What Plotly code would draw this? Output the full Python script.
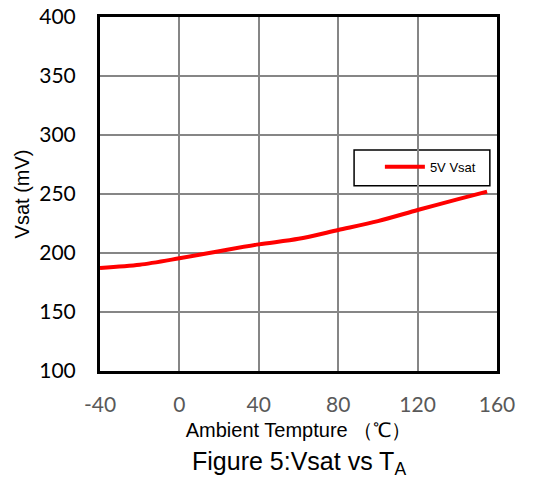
import plotly.graph_objects as go

temps = [-40, -20, 0, 20, 40, 60, 80, 100, 120, 140, 155]
vsat = [187.3, 190.0, 195.5, 201.5, 207.3, 212.0, 219.5, 227.0, 236.4, 245.5, 252.0]
series_name = "5V Vsat"
x_ticks = [-40, 0, 40, 80, 120, 160]
y_ticks = [100, 150, 200, 250, 300, 350, 400]

fig = go.Figure()
fig.add_trace(go.Scatter(
    x=temps, y=vsat, mode="lines", name=series_name,
    line=dict(color="#ff0000", width=4, shape="spline", smoothing=0.8),
))

fig.update_layout(
    width=533, height=483,
    margin=dict(l=100, r=36, t=17, b=112, autoexpand=False),
    paper_bgcolor="white", plot_bgcolor="white",
    showlegend=True,
    legend=dict(
        x=0.705, y=0.619, xanchor="left", yanchor="top",
        borderwidth=0, bgcolor="rgba(0,0,0,0)",
        font=dict(family="Liberation Sans", size=13, color="black"),
        itemwidth=40,
    ),
    shapes=[dict(
        type="rect", xref="paper", yref="paper",
        x0=0.64, x1=0.982, y0=0.523, y1=0.624,
        line=dict(color="black", width=1.5), fillcolor="white", layer="between",
    )],
    xaxis=dict(
        range=[-40, 160], tickvals=x_ticks, ticktext=[str(v) for v in x_ticks],
        showgrid=True, gridcolor="#868686", gridwidth=1.5,
        showline=True, linecolor="black", linewidth=3, mirror=True,
        ticks="", zeroline=False, automargin=False, ticklabelstandoff=13,
        ticklabeloverflow="allow",
        tickfont=dict(family="Lato", size=21, color="#595959"),
        title=dict(text="Ambient Tempture （℃）", font=dict(family="Liberation Sans", size=20, color="black"), standoff=8),
    ),
    yaxis=dict(
        range=[100, 400], tickvals=y_ticks,
        showgrid=True, gridcolor="#868686", gridwidth=1.5,
        showline=True, linecolor="black", linewidth=3, mirror=True,
        ticks="", zeroline=False, automargin=False, ticklabelstandoff=17,
        ticklabeloverflow="allow",
        tickfont=dict(family="Lato", size=21, color="black"),
        title=dict(text="Vsat (mV)", font=dict(family="Liberation Sans", size=20, color="black"), standoff=5),
    ),
    annotations=[dict(
        text="Figure 5:Vsat vs T<sub>A</sub>", xref="paper", yref="paper",
        x=0.5, y=-0.26, xanchor="center", yanchor="middle", showarrow=False,
        font=dict(family="Liberation Sans", size=25, color="black"),
    )],
)

fig.write_html("out.html", config={"displayModeBar": False},
               post_script="document.body.style.margin='0';")
